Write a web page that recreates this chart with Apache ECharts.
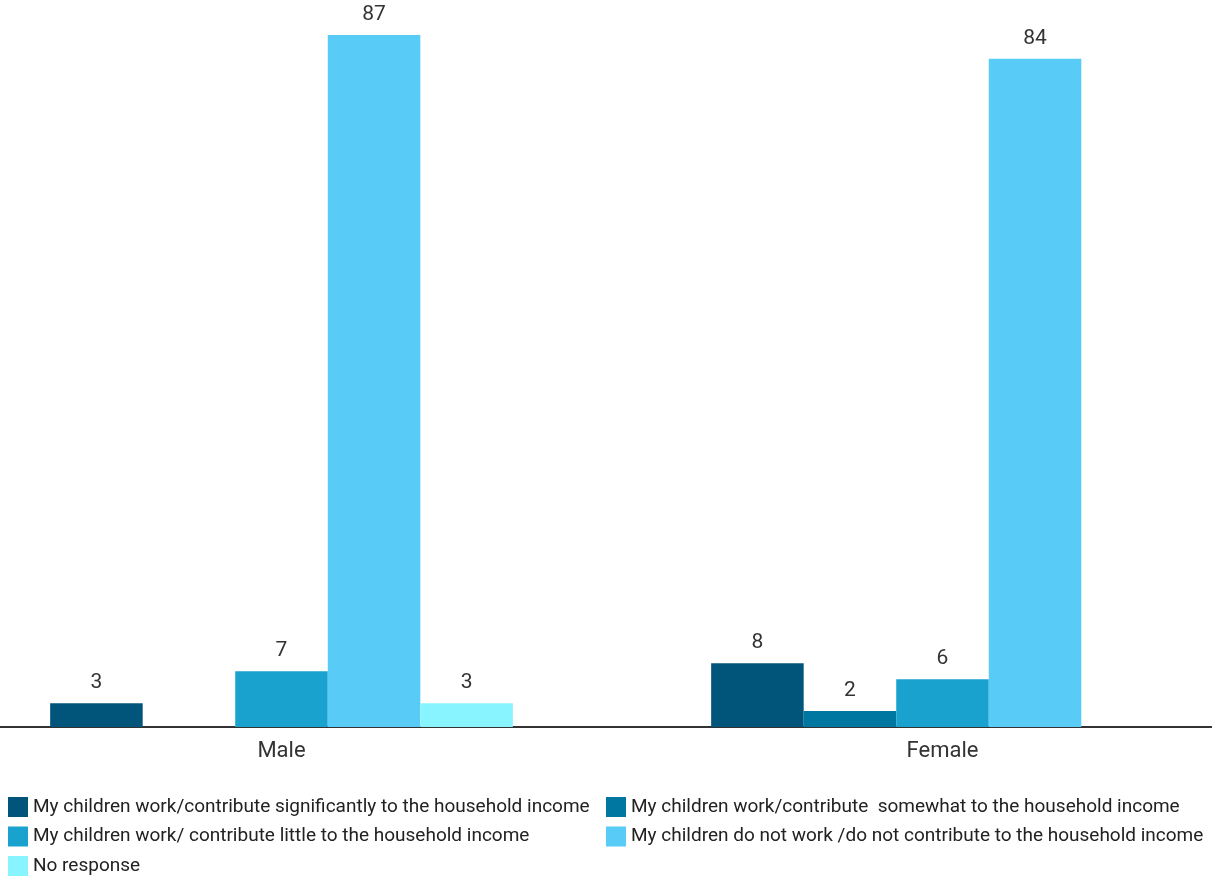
<!DOCTYPE html>
<html>
<head>
<meta charset="utf-8">
<style>
  html, body { margin: 0; padding: 0; background: #fff; }
  #chart { width: 1212px; height: 876px; }
</style>
<script src="https://cdn.jsdelivr.net/npm/echarts@6/dist/echarts.min.js"></script>
</head>
<body>
<div id="chart"></div>
<script>
var categories = ['Male', 'Female'];

var seriesNames = [
    'My children work/contribute significantly to the household income',
    'My children work/contribute  somewhat to the household income',
    'My children work/ contribute little to the household income',
    'My children do not work /do not contribute to the household income',
    'No response'
];

var significantly = [3, 8];
var somewhat = ['-', 2];
var little = [7, 6];
var notWork = [87, 84];
var noResponse = [3, '-'];

var colors = ['#02557a', '#0077a1', '#1aa2cf', '#59cbf7', '#88f4ff'];

var chart = echarts.init(document.getElementById('chart'));

var seriesData = [significantly, somewhat, little, notWork, noResponse];

var series = seriesData.map(function(d, i) {
    return {
        name: seriesNames[i],
        type: 'bar',
        data: d,
        barGap: '0%',
        barCategoryGap: '30%',
        itemStyle: {color: colors[i]},
        label: {
            show: true,
            position: 'top',
            distance: 10,
            color: '#333',
            fontSize: 21,
            fontFamily: 'Roboto'
        }
    };
});

var legendText = {fontSize: 19, color: '#222', fontFamily: 'Roboto'};

var option = {
    animation: false,
    textStyle: {fontFamily: 'Roboto'},
    grid: {
        left: -49,
        right: -61,
        top: 35,
        bottom: 149,
        containLabel: false,
        outerBoundsMode: 'none'
    },
    legend: [
        {
            orient: 'vertical',
            left: 8,
            top: 797,
            height: 90,
            padding: 0,
            icon: 'rect',
            itemWidth: 20,
            itemHeight: 20,
            itemGap: 9.5,
            data: [seriesNames[0], seriesNames[2], seriesNames[4]],
            textStyle: legendText
        },
        {
            orient: 'vertical',
            left: 606,
            top: 797,
            height: 90,
            padding: 0,
            icon: 'rect',
            itemWidth: 20,
            itemHeight: 20,
            itemGap: 9.5,
            data: [seriesNames[1], seriesNames[3]],
            textStyle: legendText
        }
    ],
    xAxis: {
        type: 'category',
        data: categories,
        axisTick: {show: false},
        axisLine: {lineStyle: {color: '#333', width: 2}},
        axisLabel: {
            color: '#333',
            fontSize: 22,
            margin: 13,
            fontFamily: 'Roboto'
        }
    },
    yAxis: {
        type: 'value',
        min: 0,
        max: 87,
        show: false,
        splitLine: {show: false}
    },
    series: series
};

chart.setOption(option);
</script>
</body>
</html>
